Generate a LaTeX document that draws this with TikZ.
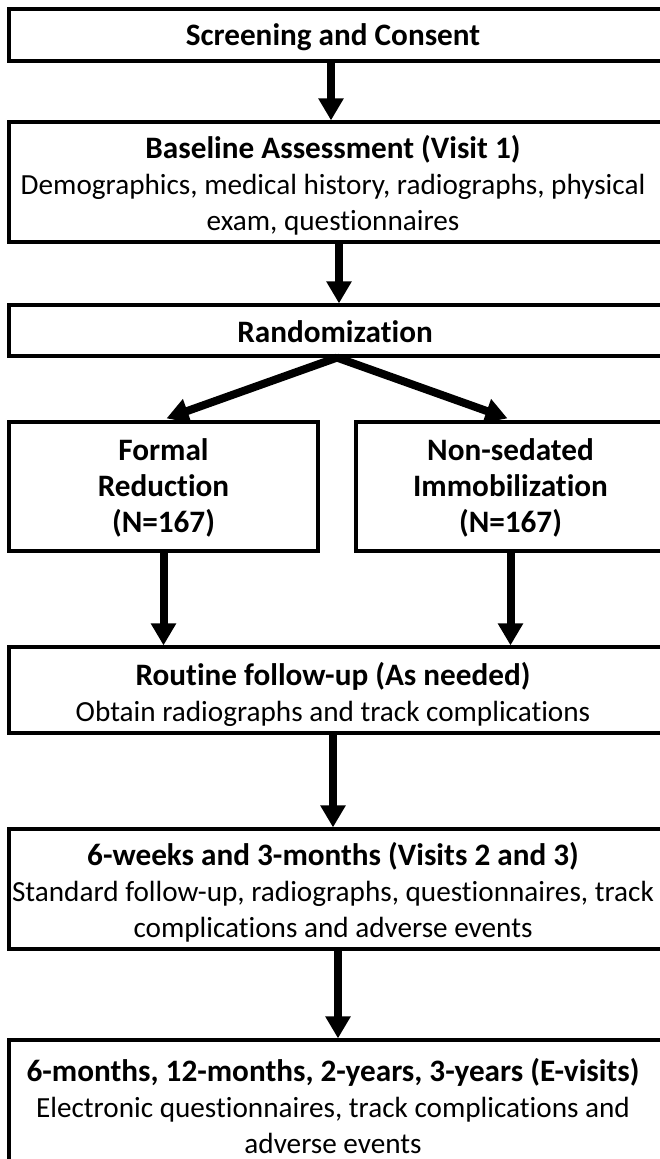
\documentclass[tikz,border=0pt]{standalone}
\usepackage{fontspec}
\setmainfont{Carlito}[Ligatures=NoCommon]
\usetikzlibrary{arrows.meta}
\tikzset{
  box/.style={draw=black, line width=3.2pt, fill=white, inner sep=0pt},
  txt/.style={inner sep=0pt, align=center, font=\fontsize{29.2}{36}\selectfont},
  arr/.style={line width=8pt, -{Triangle[width=24pt,length=22pt]}},
}
\newcommand{\hd}[1]{{\fontsize{31.2}{36}\selectfont\bfseries #1}}
\begin{document}
\begin{tikzpicture}[x=1pt,y=-1pt]
\clip (0,0) rectangle (660,1159);
\fill[white] (0,0) rectangle (660,1159);
\node[box, minimum width=656pt, minimum height=52pt] (b1) at (337,35) {};
\node[box, minimum width=656pt, minimum height=120pt] (b2) at (337,182) {};
\node[box, minimum width=656pt, minimum height=51pt] (b3) at (337,330.5) {};
\node[box, minimum width=309pt, minimum height=129pt] (b4l) at (163.5,486.5) {};
\node[box, minimum width=309pt, minimum height=129pt] (b4r) at (510.5,486.5) {};
\node[box, minimum width=656pt, minimum height=86pt] (b5) at (337,690) {};
\node[box, minimum width=656pt, minimum height=120pt] (b6) at (337,889) {};
\node[box, minimum width=656pt, minimum height=130pt] (b7) at (337,1105) {};
\node[txt] (t1) at ([xshift=-4pt,yshift=-2pt]b1.center) {\hd{Screening and Consent}};
\node[txt] (t2) at ([xshift=-4pt,yshift=-3pt]b2.center) {\hd{Baseline Assessment (Visit 1)}\\Demographics, medical history, radiographs, physical\\exam, questionnaires};
\node[txt] (t3) at ([xshift=-2pt,yshift=-1pt]b3.center) {\hd{Randomization}};
\node[txt] (t4l) at ([yshift=-1pt]b4l.center) {\hd{Formal}\\\hd{Reduction}\\\hd{(N=167)}};
\node[txt] (t4r) at ([yshift=-1pt]b4r.center) {\hd{Non-sedated}\\\hd{Immobilization}\\\hd{(N=167)}};
\node[txt] (t5) at ([xshift=-4pt,yshift=-4pt]b5.center) {\hd{Routine follow-up (As needed)}\\Obtain radiographs and track complications};
\node[txt] (t6) at ([xshift=-4pt,yshift=-3pt]b6.center) {\hd{6-weeks and 3-months (Visits 2 and 3)}\\Standard follow-up, radiographs, questionnaires, track\\complications and adverse events};
\node[txt] (t7) at ([xshift=-4pt,yshift=-1pt]b7.center) {\hd{6-months, 12-months, 2-years, 3-years (E-visits)}\\Electronic questionnaires, track complications and\\adverse events};
\draw[arr] ([xshift=-6pt]b1.south) -- ([xshift=-6pt]b2.north);
\draw[arr] ([xshift=2pt]b2.south) -- ([xshift=2pt]b3.north);
\draw[arr] (b3.south) -- ([xshift=3pt,yshift=2pt]b4l.north);
\draw[arr] (b3.south) -- ([xshift=-3pt,yshift=2pt]b4r.north);
\draw[arr] (b4l.south) -- (b4l.south |- b5.north);
\draw[arr] (b4r.south) -- (b4r.south |- b5.north);
\draw[arr] ([xshift=-4pt]b5.south) -- ([xshift=-4pt]b6.north);
\draw[arr] ([xshift=1pt]b6.south) -- ([xshift=1pt]b7.north);
\end{tikzpicture}
\end{document}
